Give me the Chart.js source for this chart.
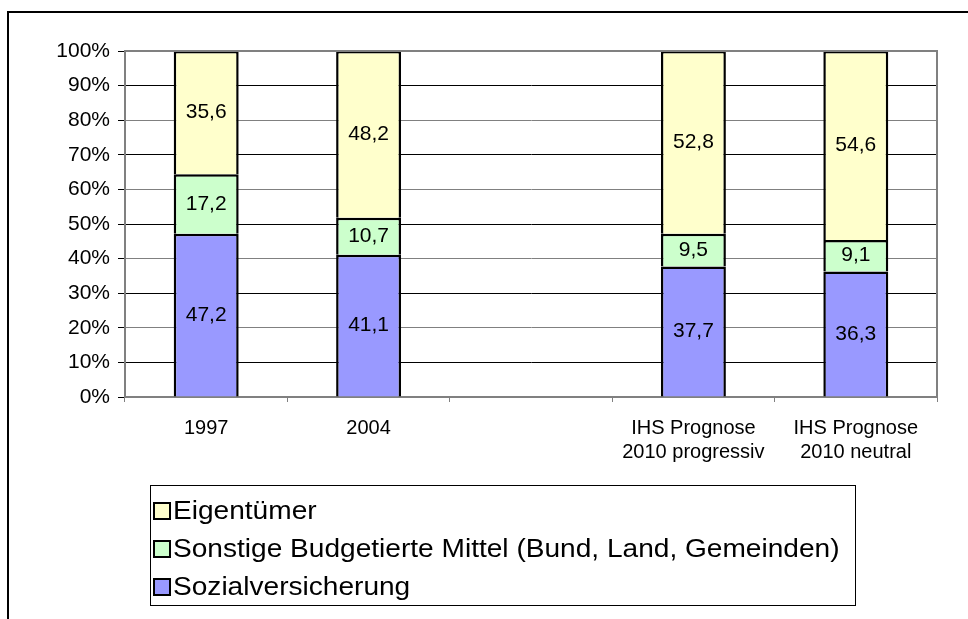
<!DOCTYPE html>
<html>
<head>
<meta charset="utf-8">
<script src="https://cdn.jsdelivr.net/npm/chart.js@4.4.1/dist/chart.umd.min.js"></script>
<style>
  html, body { margin: 0; padding: 0; background: #fff; }
  #wrap { position: relative; width: 968px; height: 619px; }
</style>
</head>
<body>
<div id="wrap"><canvas id="chart" width="968" height="619"></canvas></div>
<script>
// Kategorien und Werte (Anteile in %)
const categories = ['1997', '2004', '', ['IHS Prognose', '2010 progressiv'], ['IHS Prognose', '2010 neutral']];
const sozialversicherung = [47.2, 41.1, null, 37.7, 36.3];
const sonstigeMittel = [17.2, 10.7, null, 9.5, 9.1];
const eigentuemer = [35.6, 48.2, null, 52.8, 54.6];
const yTicks = [0, 10, 20, 30, 40, 50, 60, 70, 80, 90, 100];

const FONT = "'Liberation Sans', Arial, sans-serif";

// Werte in die Balken schreiben
const valueLabels = {
    id: 'valueLabels',
    afterDatasetsDraw(chart) {
        const ctx = chart.ctx;
        ctx.save();
        ctx.font = '21px ' + FONT;
        ctx.fillStyle = '#000';
        ctx.textAlign = 'center';
        ctx.textBaseline = 'middle';
        chart.data.datasets.forEach((ds, i) => {
            chart.getDatasetMeta(i).data.forEach((bar, j) => {
                const v = ds.data[j];
                if (v == null) return;
                const y = (bar.y + bar.base) / 2;
                ctx.fillText(v.toFixed(1).replace('.', ','), bar.x, y);
            });
        });
        ctx.restore();
    }
};

// Rahmen um das Diagramm und Legende (vertikal, mit Kasten)
const frameAndLegend = {
    id: 'frameAndLegend',
    afterDraw(chart) {
        const ctx = chart.ctx;
        ctx.save();
        // äußerer Rahmen
        ctx.strokeStyle = '#000';
        ctx.lineWidth = 2;
        ctx.strokeRect(8, 12, 2000, 2000);
        // Legendenkasten
        ctx.lineWidth = 1;
        ctx.strokeStyle = '#000';
        ctx.strokeRect(150.5, 485.5, 705, 120);
        const items = chart.data.datasets.slice().reverse();
        ctx.font = '26px ' + FONT;
        ctx.textBaseline = 'middle';
        ctx.textAlign = 'left';
        items.forEach((ds, k) => {
            const cy = 511 + k * 38;
            ctx.fillStyle = ds.backgroundColor;
            ctx.fillRect(154, cy - 8, 16, 16);
            ctx.lineWidth = 2;
            ctx.strokeRect(154, cy - 8, 16, 16);
            ctx.fillStyle = '#000';
            ctx.save();
            ctx.translate(173, cy + 1);
            ctx.scale(1.08, 1);
            ctx.fillText(ds.label, 0, 0);
            ctx.restore();
        });
        ctx.restore();
    }
};

const ctx = document.getElementById('chart');
new Chart(ctx, {
    type: 'bar',
    data: {
        labels: categories,
        datasets: [
            {
                label: 'Sozialversicherung',
                data: sozialversicherung,
                backgroundColor: '#9999FF',
                borderColor: '#000',
                borderWidth: 2.5,
            },
            {
                label: 'Sonstige Budgetierte Mittel (Bund, Land, Gemeinden)',
                data: sonstigeMittel,
                backgroundColor: '#CCFFCC',
                borderColor: '#000',
                borderWidth: 2.5,
            },
            {
                label: 'Eigentümer',
                data: eigentuemer,
                backgroundColor: '#FFFFCC',
                borderColor: '#000',
                borderWidth: 2.5,
            },
        ],
    },
    options: {
        responsive: false,
        animation: false,
        devicePixelRatio: 1,
        datasets: {
            bar: { categoryPercentage: 1.0, barPercentage: 0.4 }
        },
        layout: {
            padding: { left: 50, right: 31, top: 51, bottom: 0 }
        },
        plugins: {
            legend: { display: false },
            tooltip: { enabled: false },
        },
        scales: {
            x: {
                stacked: true,
                offset: true,
                border: { color: '#808080', width: 2 },
                grid: {
                    offset: true,
                    drawOnChartArea: false,
                    drawTicks: true,
                    tickLength: 5,
                    color: '#808080',
                },
                ticks: {
                    color: '#000',
                    padding: 14,
                    maxRotation: 0,
                    autoSkip: false,
                    font: { family: FONT, size: 20, lineHeight: 1.2 },
                },
                afterFit(scale) { scale.height = 222; },
            },
            y: {
                stacked: true,
                min: 0,
                max: 100,
                afterBuildTicks(scale) {
                    scale.ticks = yTicks.map(v => ({ value: v }));
                },
                border: { color: '#808080', width: 2 },
                grid: {
                    color: (c) => (c.tick && c.tick.value % 20 === 0 ? '#808080' : '#000'),
                    tickColor: '#000',
                    tickLength: 7,
                    lineWidth: 1,
                },
                ticks: {
                    color: '#000',
                    padding: 8,
                    font: { family: FONT, size: 21 },
                    callback: (v) => v + '%',
                },
                afterFit(scale) { scale.width = 75; },
            },
        },
    },
    plugins: [valueLabels, frameAndLegend, {
        id: 'plotBorder',
        afterDraw(chart) {
            const a = chart.chartArea;
            const c = chart.ctx;
            c.save();
            c.strokeStyle = '#808080';
            c.lineWidth = 2;
            c.beginPath();
            c.moveTo(a.left, a.top);
            c.lineTo(a.right, a.top);
            c.lineTo(a.right, a.bottom);
            c.stroke();
            c.restore();
        }
    }],
});
</script>
</body>
</html>
